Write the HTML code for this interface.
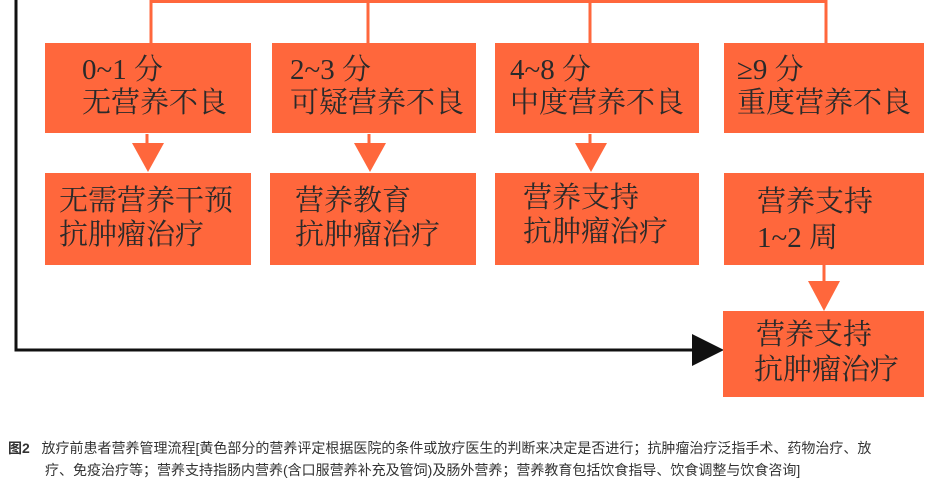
<!DOCTYPE html>
<html><head><meta charset="utf-8"><style>
body{margin:0;width:945px;height:494px;background:#fff;position:relative;overflow:hidden}
.b{position:absolute;background:#FF673C;color:#2a2a2a;font-family:"Liberation Serif","Noto Serif CJK SC",serif;font-size:29px;line-height:33px;white-space:nowrap}
.b div{position:absolute}
.cap{position:absolute;left:8px;font-family:"Liberation Sans","Noto Sans CJK SC",sans-serif;font-size:14px;color:#333;white-space:nowrap}
</style></head><body>
<svg width="945" height="494" style="position:absolute;left:0;top:0">
<g stroke="#FF673C" stroke-width="3" fill="none">
<path d="M151 43V1.5H826V43M368 1.5V43M590 1.5V43"/>
<path d="M147 134V145M369 134V145M590 134V145M824 265V285"/>
</g>
<g fill="#FF673C">
<polygon points="132,143 164,143 148,172"/>
<polygon points="354,143 386,143 370,172"/>
<polygon points="575,143 607,143 591,172"/>
<polygon points="808,281 840,281 824,311"/>
</g>
<path d="M16 0V350H694" stroke="#111" stroke-width="3" fill="none"/>
<polygon points="692,334 724,350 692,366" fill="#111"/>
</svg>
<div class="b" style="left:45px;top:43px;width:206px;height:90px"><div style="left:37px;top:11px">0~1 分</div><div style="left:37px;top:44px">无营养不良</div></div>
<div class="b" style="left:272px;top:43px;width:204px;height:90px"><div style="left:18px;top:11px">2~3 分</div><div style="left:18px;top:44px">可疑营养不良</div></div>
<div class="b" style="left:495px;top:43px;width:204px;height:90px"><div style="left:15px;top:11px">4~8 分</div><div style="left:15px;top:44px">中度营养不良</div></div>
<div class="b" style="left:724px;top:43px;width:200px;height:90px"><div style="left:13px;top:11px">≥9 分</div><div style="left:13px;top:44px">重度营养不良</div></div>
<div class="b" style="left:45px;top:173px;width:206px;height:92px"><div style="left:14px;top:12px">无需营养干预</div><div style="left:14px;top:46px">抗肿瘤治疗</div></div>
<div class="b" style="left:270px;top:173px;width:206px;height:92px"><div style="left:25px;top:12px">营养教育</div><div style="left:25px;top:46px">抗肿瘤治疗</div></div>
<div class="b" style="left:495px;top:173px;width:204px;height:92px"><div style="left:28px;top:9px">营养支持</div><div style="left:28px;top:43px">抗肿瘤治疗</div></div>
<div class="b" style="left:724px;top:173px;width:200px;height:92px"><div style="left:33px;top:13px">营养支持</div><div style="left:33px;top:49px">1~2 周</div></div>
<div class="b" style="left:723px;top:311px;width:201px;height:86px"><div style="left:33px;top:8px">营养支持</div><div style="left:31px;top:43px">抗肿瘤治疗</div></div>
<div class="cap" style="top:438px"><b>图2</b>&nbsp;&nbsp;&nbsp;放疗前患者营养管理流程[黄色部分的营养评定根据医院的条件或放疗医生的判断来决定是否进行；抗肿瘤治疗泛指手术、药物治疗、放</div>
<div class="cap" style="top:460px;left:45px">疗、免疫治疗等；营养支持指肠内营养(含口服营养补充及管饲)及肠外营养；营养教育包括饮食指导、饮食调整与饮食咨询]</div>
</body></html>
